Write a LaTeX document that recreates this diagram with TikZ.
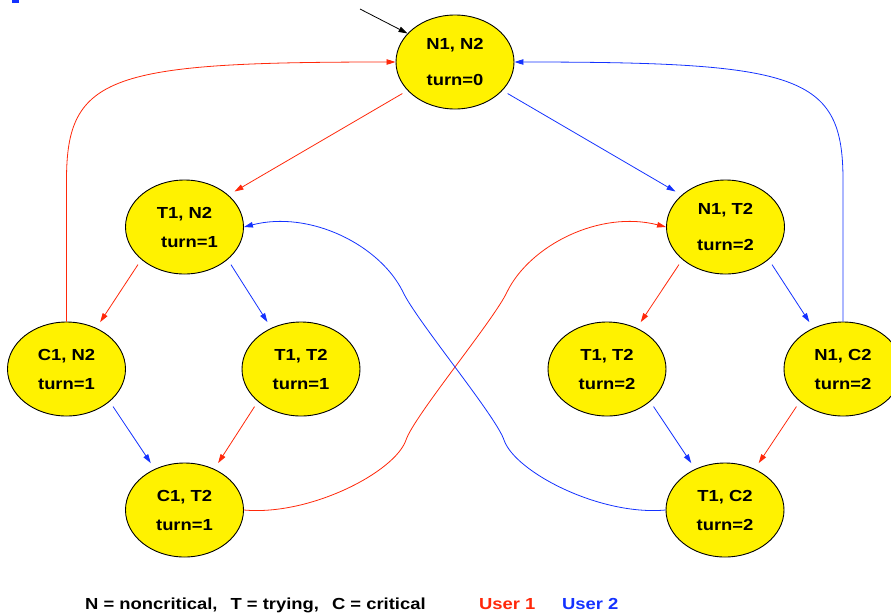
\documentclass[tikz,border=0pt]{standalone}
\usepackage{fontspec}
\setmainfont[FakeStretch=1.15]{Liberation Sans}
\usetikzlibrary{shapes.geometric,arrows.meta}
\definecolor{ured}{RGB}{255,40,10}
\definecolor{ublue}{RGB}{20,50,255}
\tikzset{
  state/.style={ellipse,draw,line width=0.9pt,fill=yellow,minimum width=118pt,minimum height=94pt,
    inner sep=0pt,align=center,font=\bfseries\fontsize{16}{29}\selectfont},
  arr/.style={line width=0.8pt,-{Triangle[length=9pt,width=5.5pt]}},
  move/.style={arr,shorten <=6pt,shorten >=7pt},
  key/.style={font=\bfseries\fontsize{16}{19}\selectfont,inner sep=0pt,anchor=base west},
}
\begin{document}
\begin{tikzpicture}[x=1pt,y=-1pt]
\useasboundingbox (0,0) rectangle (891,614);
%\draw[step=20,gray,very thin] (0,0) grid (891,614);
\fill[ublue] (12,0) rectangle (19,2.5);
% states
\node[state] (n1n2) at (455,62) {N1, N2\\[7pt]turn=0};
\node[state] (t1n2) at (184.5,227) {T1, N2\\\hspace*{10pt}turn=1};
\node[state] (n1t2) at (725.5,227) {N1, T2\\[7pt]turn=2};
\node[state] (c1n2) at (66.5,369) {C1, N2\\turn=1};
\node[state] (t1t2a) at (301,369) {T1, T2\\turn=1};
\node[state] (t1t2b) at (607,369) {T1, T2\\turn=2};
\node[state] (n1c2) at (843,369) {N1, C2\\turn=2};
\node[state] (c1t2) at (184.5,510) {C1, T2\\turn=1};
\node[state] (t1c2) at (725,510) {T1, C2\\turn=2};
% start
\coordinate (init) at (360,9);
\draw[arr] (init) -- (n1n2.149);
% moves
\draw[move,ured] (n1n2.211) -- (t1n2.36);
\draw[move,ublue] (n1n2.329) -- (n1t2.144);
\draw[move,ured] (t1n2.217) -- (c1n2.54);
\draw[move,ublue] (t1n2.323) -- (t1t2a.126);
\draw[move,ured] (n1t2.217) -- (t1t2b.54);
\draw[move,ublue] (n1t2.323) -- (n1c2.126);
\draw[move,ublue] (c1n2.323) -- (c1t2.126);
\draw[move,ured] (t1t2a.217) -- (c1t2.54);
\draw[move,ublue] (t1t2b.323) -- (t1c2.126);
\draw[move,ured] (n1c2.217) -- (t1c2.54);
% back to start
\draw[arr,ured] (c1n2.north) -- (66.5,180) .. controls (66.5,75) and (110,62) .. (n1n2.west);
\draw[arr,ublue] (n1c2.north) -- (843,180) .. controls (843,75) and (800,62) .. (n1n2.east);
% crossing
\draw[arr,ured] (c1t2.east) .. controls (310,516) and (395,472) .. (406,440)
  .. controls (414,416) and (494,320) .. (507,292)
  .. controls (530,245) and (600,210) .. (n1t2.west);
\draw[arr,ublue] (t1c2.west) .. controls (600,516) and (515,472) .. (504,440)
  .. controls (496,416) and (416,320) .. (403,292)
  .. controls (380,245) and (310,210) .. (t1n2.east);
% key
\node[key] (legend) at (85,609) {N = noncritical,\hspace{13pt}T = trying,\hspace{13pt}C = critical};
\node[key,text=ured] (user1) at (479,609) {User 1};
\node[key,text=ublue] (user2) at (562,609) {User 2};
\end{tikzpicture}
\end{document}
